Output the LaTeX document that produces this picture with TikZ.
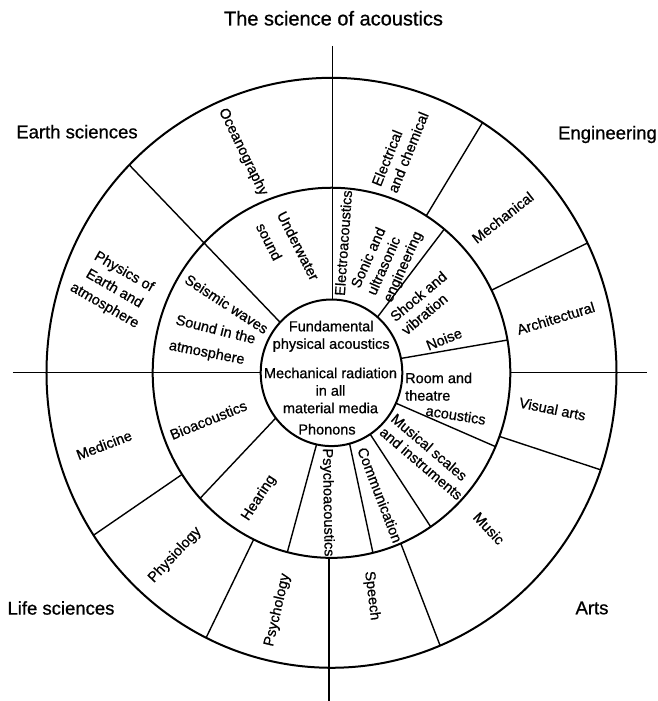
\documentclass[tikz,border=0pt]{standalone}
\usepackage{fontspec}
\setmainfont{Liberation Sans}[FakeBold=0.8]
\begin{document}
\begin{tikzpicture}[x=1pt,y=1pt,
  ring/.style={font=\fontsize{14.5}{17.5}\selectfont, inner sep=0pt, align=center},
  cat/.style={font=\fontsize{18.5}{22}\selectfont, inner sep=0pt},
  spoke/.style={line width=1.4pt},
  rim/.style={line width=2pt}]
\useasboundingbox (-331.5,-328.2) rectangle (325.5,372.8);
\begin{scope}[yscale=1.035]
  \coordinate (O) at (0,0);
  \draw[rim] (O) circle (285);
  \draw[rim] (O) circle (178.8);
  \draw[rim] (O) circle (70.8);
  % axes
  \coordinate (vt1) at (1,315.8);   \coordinate (vt2) at (1,70.8);
  \coordinate (vb1) at (-2.5,-178.6); \coordinate (vb2) at (-2.5,-317.1);
  \coordinate (hl1) at (-318.5,0);  \coordinate (hl2) at (-70.8,0);
  \coordinate (hr1) at (178.8,0);   \coordinate (hr2) at (315.5,0);
  \draw[spoke] (vt1) -- (vt2);
  \draw[spoke] (vb1) -- (vb2);
  \draw[spoke] (hl1) -- (hl2);
  \draw[spoke] (hr1) -- (hr2);
  % full spoke
  \coordinate (f1a) at (136.5:70.8); \coordinate (f1b) at (135.2:285);
  \draw[spoke] (f1a) -- (f1b);
  % middle ring spokes
  \coordinate (m1a) at (49.5:70.8);   \coordinate (m1b) at (50.9:178.8);
  \coordinate (m2a) at (11.3:70.8);   \coordinate (m2b) at (10.2:178.8);
  \coordinate (m3a) at (-24.5:70.8);  \coordinate (m3b) at (-23.5:178.8);
  \coordinate (m4a) at (-56.9:70.8);  \coordinate (m4b) at (-56.3:178.8);
  \coordinate (m5a) at (-75.2:70.8);  \coordinate (m5b) at (-76.6:178.8);
  \coordinate (m6a) at (-102.2:70.8); \coordinate (m6b) at (-104.3:178.8);
  \coordinate (m7a) at (-141.9:70.8); \coordinate (m7b) at (-137.3:178.8);
  \foreach \i in {1,...,7}{\draw[spoke] (m\i a) -- (m\i b);}
  % outer ring spokes
  \coordinate (o1a) at (58:178.8);     \coordinate (o1b) at (58:285);
  \coordinate (o2a) at (26.5:178.8);   \coordinate (o2b) at (26.1:285);
  \coordinate (o3a) at (-20.1:178.8);  \coordinate (o3b) at (-19.2:285);
  \coordinate (o4a) at (-67.2:178.8);  \coordinate (o4b) at (-67.6:285);
  \coordinate (o5a) at (-115.8:178.8); \coordinate (o5b) at (-116.1:285);
  \coordinate (o6a) at (-146.7:178.8); \coordinate (o6b) at (-146.6:285);
  \foreach \i in {1,...,6}{\draw[spoke] (o\i a) -- (o\i b);}
\end{scope}
% outer ring labels
\node[ring, rotate=-64] (ocean) at (-88.5,220.8) {Oceanography};
\node[ring, rotate=68, align=left] (elec) at (68.5,223.8) {Electrical\\and chemical};
\node[ring, rotate=38] (mech) at (171.2,155.3) {Mechanical};
\node[ring, rotate=17] (arch) at (224.3,54.5) {Architectural};
\node[ring, rotate=-11.5] (visual) at (221,-36.2) {Visual arts};
\node[ring, rotate=-47] (music) at (157.5,-155.5) {Music};
\node[ring, rotate=-83] (speech) at (40.3,-223) {Speech};
\node[ring, rotate=77] (psychol) at (-54,-237.2) {Psychology};
\node[ring, rotate=47] (physiol) at (-156.5,-182.2) {Physiology};
\node[ring, rotate=21] (medicine) at (-227.5,-72.2) {Medicine};
\node[ring, rotate=-30, font=\fontsize{14.5}{19.5}\selectfont] (physics) at (-217.3,83.8) {Physics of\\Earth and\\atmosphere};
% middle ring labels
\node[ring, rotate=-63] (underw) at (-33.2,127) {Underwater};
\node[ring, rotate=-63] (soundw) at (-62.3,131.1) {sound};
\node[ring, rotate=86] (electroac) at (11.8,129.8) {Electroacoustics};
\node[ring, rotate=66, align=left] (sonic) at (56,112.8) {Sonic and\\ultrasonic\\engineering};
\node[ring, rotate=40, align=left] (shock) at (92.5,69.8) {Shock and\\vibration};
\node[ring, rotate=22] (noise) at (112.5,33.8) {Noise};
\node[ring, align=left, anchor=west] (room) at (73.5,-13.9) {Room and\\theatre};
\node[ring, rotate=-9] (acoust) at (124.3,-42.2) {acoustics};
\node[ring, rotate=-40.5, align=left] (musical) at (95.5,-83.9) {Musical scales\\and instruments};
\node[ring, rotate=-69] (comm) at (48.5,-122.2) {Communication};
\node[ring, rotate=-89] (psychoac) at (-4,-129.7) {Psychoacoustics};
\node[ring, rotate=57] (hearing) at (-72.5,-125.2) {Hearing};
\node[ring, rotate=22] (bio) at (-123.1,-47.2) {Bioacoustics};
\node[ring, rotate=-33] (seismic) at (-104.8,68.8) {Seismic waves};
\node[ring, rotate=-14] (soundin) at (-115.7,43.8) {Sound in the};
\node[ring, rotate=-11] (atmos) at (-124.8,19.5) {atmosphere};
% inner circle labels
\node[ring] (fund) at (-0.3,36.5) {Fundamental\\physical acoustics};
\node[ring] (mechrad) at (-1,-17.7) {Mechanical radiation\\in all\\material media};
\node[ring] (phonons) at (-4.5,-56.5) {Phonons};
% category labels
\node[cat, font=\fontsize{20}{24}\selectfont] (title) at (2,354.5) {The science of acoustics};
\node[cat] (earth) at (-254.5,241.1) {Earth sciences};
\node[cat] (eng) at (276,238.3) {Engineering};
\node[cat] (life) at (-270.5,-235.2) {Life sciences};
\node[cat] (arts) at (260.5,-235.2) {Arts};
\end{tikzpicture}
\end{document}
